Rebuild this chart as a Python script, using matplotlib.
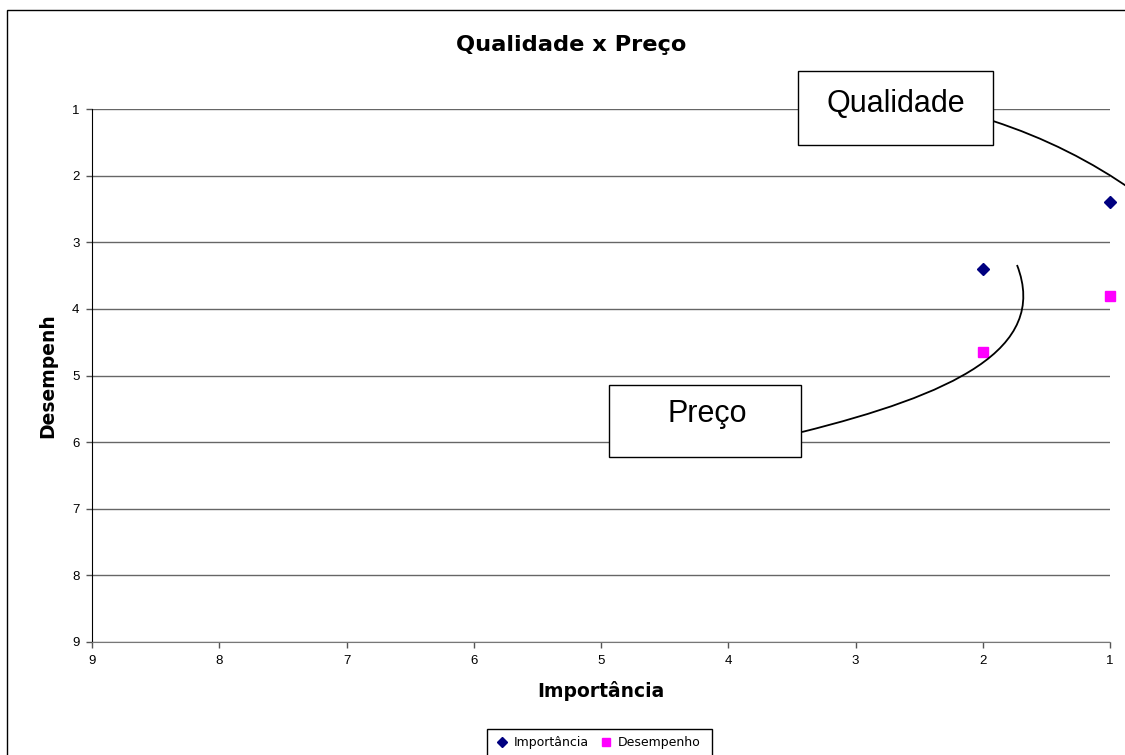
import matplotlib
matplotlib.use('Agg')
import matplotlib.pyplot as plt
from matplotlib.patches import Rectangle, PathPatch
from matplotlib.path import Path

# dados
imp_x = [1, 2]
imp_y = [2.4, 3.4]
des_x = [1, 2]
des_y = [3.8, 4.65]
ticks = [1, 2, 3, 4, 5, 6, 7, 8, 9]

W, H = 1125, 755


def px(x, y):
    # pixel da imagem -> fracao da figura
    return (x / W, 1 - y / H)


fig = plt.figure(figsize=(W / 100, H / 100), dpi=100)
ax = fig.add_axes([92 / W, 1 - 642 / H, (1110 - 92) / W, (642 - 109) / H])

ax.plot(imp_x, imp_y, linestyle='none', marker='D', ms=6.2, color='#000080',
        clip_on=False, zorder=5, label='Importância')
ax.plot(des_x, des_y, linestyle='none', marker='s', ms=7, color='#FF00FF',
        clip_on=False, zorder=5, label='Desempenho')

ax.set_xlim(9, 1)
ax.set_ylim(9, 1)
ax.set_xticks(ticks)
ax.set_yticks(ticks)
ax.grid(axis='y', color='#666666', linewidth=1)
ax.set_axisbelow(True)
for s in ['top', 'right']:
    ax.spines[s].set_visible(False)
ax.spines['left'].set_color('black')
ax.spines['bottom'].set_color('#777777')
ax.tick_params(axis='both', direction='out', length=4, width=1, color='#555555',
               labelsize=9.5, pad=5)
for lab in ax.get_xticklabels() + ax.get_yticklabels():
    lab.set_fontfamily('Liberation Sans')

ax.set_xlabel('Importância', fontsize=13.5, fontweight='bold', family='DejaVu Sans', labelpad=10.5)
ax.set_ylabel('Desempenh', fontsize=13.5, fontweight='bold', family='DejaVu Sans', labelpad=10.5)
fig.text(571 / W, 1 - 45 / H, 'Qualidade x Preço', ha='center', va='center',
         fontsize=16.2, fontweight='bold', family='DejaVu Sans')

# borda da area do grafico
fig.add_artist(Rectangle(px(7, 800), 1.2, (800 - 10) / H, transform=fig.transFigure,
                         fill=False, edgecolor='black', linewidth=1, clip_on=False))

# legenda
leg = fig.legend(loc='center', bbox_to_anchor=px(599, 742.5), ncol=2, frameon=False,
                 fontsize=9, handlelength=0.7, handletextpad=0.6, columnspacing=1.0,
                 markerscale=0.75)
fig.add_artist(Rectangle(px(487, 770), (712 - 487) / W, (770 - 729) / H,
                         transform=fig.transFigure, fill=False, edgecolor='black',
                         linewidth=1, clip_on=False, zorder=6))

# caixas de texto com conectores
curva_q = Path([px(993, 121), px(1070, 146), px(1135, 192)],
               [Path.MOVETO, Path.CURVE3, Path.CURVE3])
fig.add_artist(PathPatch(curva_q, transform=fig.transFigure, fill=False,
                         edgecolor='black', linewidth=1.3, zorder=7))
curva_p = Path([px(802, 432), px(950, 395), px(1050, 350), px(1017, 265)],
               [Path.MOVETO, Path.CURVE4, Path.CURVE4, Path.CURVE4])
fig.add_artist(PathPatch(curva_p, transform=fig.transFigure, fill=False,
                         edgecolor='black', linewidth=1.3, zorder=7))

fig.add_artist(Rectangle(px(798, 145), (993 - 798) / W, (145 - 71) / H,
                         transform=fig.transFigure, facecolor='white',
                         edgecolor='black', linewidth=1, zorder=8))
fig.text(896 / W, 1 - 104 / H, 'Qualidade', ha='center', va='center', fontsize=22,
         family='Liberation Sans', zorder=9)
fig.add_artist(Rectangle(px(609, 457), (801 - 609) / W, (457 - 385) / H,
                         transform=fig.transFigure, facecolor='white',
                         edgecolor='black', linewidth=1, zorder=8))
fig.text(707 / W, 1 - 414 / H, 'Preço', ha='center', va='center', fontsize=22,
         family='Liberation Sans', zorder=9)

fig.savefig('out.png', dpi=100)
